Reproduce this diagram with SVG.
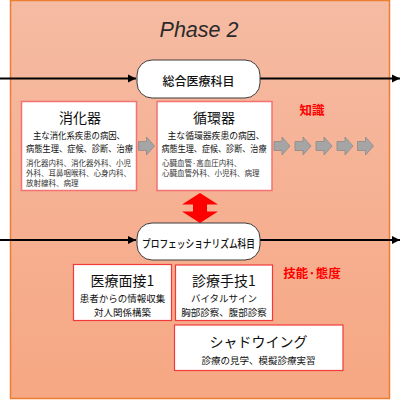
<svg xmlns="http://www.w3.org/2000/svg" width="400" height="400" viewBox="0 0 400 400">
<defs>
<linearGradient id="bg" x1="0" y1="0" x2="0" y2="1">
<stop offset="0" stop-color="#F5BBA3"/>
<stop offset="1" stop-color="#F6A783"/>
</linearGradient>
<marker id="ah" viewBox="0 0 10 10" refX="10" refY="5" markerWidth="4.5" markerHeight="4.5" orient="auto" markerUnits="strokeWidth">
<path d="M0,0 L10,5 L0,10 Z" fill="#000"/>
</marker>
<polygon id="ga" points="0,4.5 8,4.5 8,0 16,9 8,18 8,13.5 0,13.5" fill="#A5A5A5" stroke="#8A8A8A" stroke-width="0.8"/>
</defs>
<style>
text{font-family:"Noto Sans CJK JP","Noto Sans",sans-serif;fill:#111}
.box{fill:#fff;stroke:#F47272;stroke-width:1.5}
.box2{fill:#fff;stroke:#F23A3A;stroke-width:1.2}
.node{fill:#fff;stroke:#3C3C3C;stroke-width:1}
.t{font-size:14px;text-anchor:middle;font-weight:400}
.d{font-size:9px;text-anchor:middle}
.s{font-size:7.5px;fill:#333}
.red{font-size:12.5px;fill:#FF0000;font-weight:bold;text-anchor:middle}
.con{stroke:#000;stroke-width:1.8;fill:none;marker-end:url(#ah)}
</style>
<rect x="10.5" y="0.5" width="379" height="398" fill="url(#bg)" stroke="#ED7D31" stroke-width="1.5"/>
<text x="199" y="37" font-style="italic" font-size="21.5" text-anchor="middle" style="font-family:'Liberation Sans',Arial,sans-serif;fill:#2a2a2a">Phase 2</text>

<g id="connectors">
<line class="con" x1="0" y1="78.5" x2="136" y2="78.5"/>
<line class="con" x1="260" y1="78.5" x2="400" y2="78.5"/>
<line class="con" x1="0" y1="240" x2="136" y2="240"/>
<line class="con" x1="260" y1="240" x2="400" y2="240"/>
<use href="#ga" x="138.5" y="137"/>
<use href="#ga" x="274" y="137"/>
<use href="#ga" x="295" y="137"/>
<use href="#ga" x="316" y="137"/>
<use href="#ga" x="337" y="137"/>
<use href="#ga" x="357.5" y="137"/>
<polygon points="200,193 218,204.5 207,204.5 207,211.5 218,211.5 200,223 182,211.5 193,211.5 193,204.5 182,204.5" fill="#FF0000"/>
</g>

<g id="node-sogo">
<rect class="node" x="137" y="60" width="123" height="38" rx="15"/>
<text x="198.5" y="85.5" style="font-size:12px;font-weight:500;text-anchor:middle">総合医療科目</text>
</g>

<g id="node-pro">
<rect class="node" x="137" y="223" width="123" height="37" rx="15"/>
<text x="198.5" y="247.5" textLength="113" lengthAdjust="spacingAndGlyphs" style="font-size:11px;font-weight:500;text-anchor:middle">プロフェッショナリズム科目</text>
</g>

<g id="box-shoka">
<rect class="box" x="21.5" y="101.5" width="115" height="89"/>
<text class="t" x="80" y="122.5">消化器</text>
<text class="d" x="79" y="138.5" textLength="92" lengthAdjust="spacingAndGlyphs">主な消化系疾患の病因、</text>
<text class="d" x="79.5" y="152" textLength="107" lengthAdjust="spacingAndGlyphs">病態生理、症候、診断、治療</text>
<text class="s" x="26" y="165.5">消化器内科、消化器外科、小児</text>
<text class="s" x="26" y="175.5">外科、耳鼻咽喉科、心身内科、</text>
<text class="s" x="26" y="185.5">放射線科、病理</text>
</g>

<g id="box-junkan">
<rect class="box" x="157" y="101.5" width="115" height="89"/>
<text class="t" x="214" y="122.5">循環器</text>
<text class="d" x="216" y="138.5" textLength="97" lengthAdjust="spacingAndGlyphs">主な循環器疾患の病因、</text>
<text class="d" x="214" y="152" textLength="105" lengthAdjust="spacingAndGlyphs">病態生理、症候、診断、治療</text>
<text class="s" x="162" y="165.5">心臓血管·高血圧内科、</text>
<text class="s" x="162" y="175.5">心臓血管外科、小児科、病理</text>
</g>

<text class="red" x="312" y="115">知識</text>

<g id="box-mensetsu">
<rect class="box2" x="73.5" y="264.5" width="98" height="56"/>
<text class="t" x="122.5" y="286">医療面接1</text>
<text class="d" x="122.5" y="302" style="font-size:9.5px">患者からの情報収集</text>
<text class="d" x="122.5" y="316" style="font-size:9.5px">対人関係構築</text>
</g>

<g id="box-shugi">
<rect class="box2" x="175.5" y="265" width="97" height="55.5"/>
<text class="t" x="224" y="286">診療手技1</text>
<text class="d" x="224" y="302" style="font-size:9.5px">バイタルサイン</text>
<text class="d" x="224" y="316" style="font-size:9.5px">胸部診察、腹部診察</text>
</g>

<g id="box-shadow">
<rect class="box2" x="174.5" y="325" width="168.5" height="45.5"/>
<text class="t" x="258.5" y="347">シャドウイング</text>
<text class="d" x="258.5" y="363.5" style="font-size:9.5px">診療の見学、模擬診療実習</text>
</g>

<text class="red" x="312" y="278">技能·態度</text>
</svg>
